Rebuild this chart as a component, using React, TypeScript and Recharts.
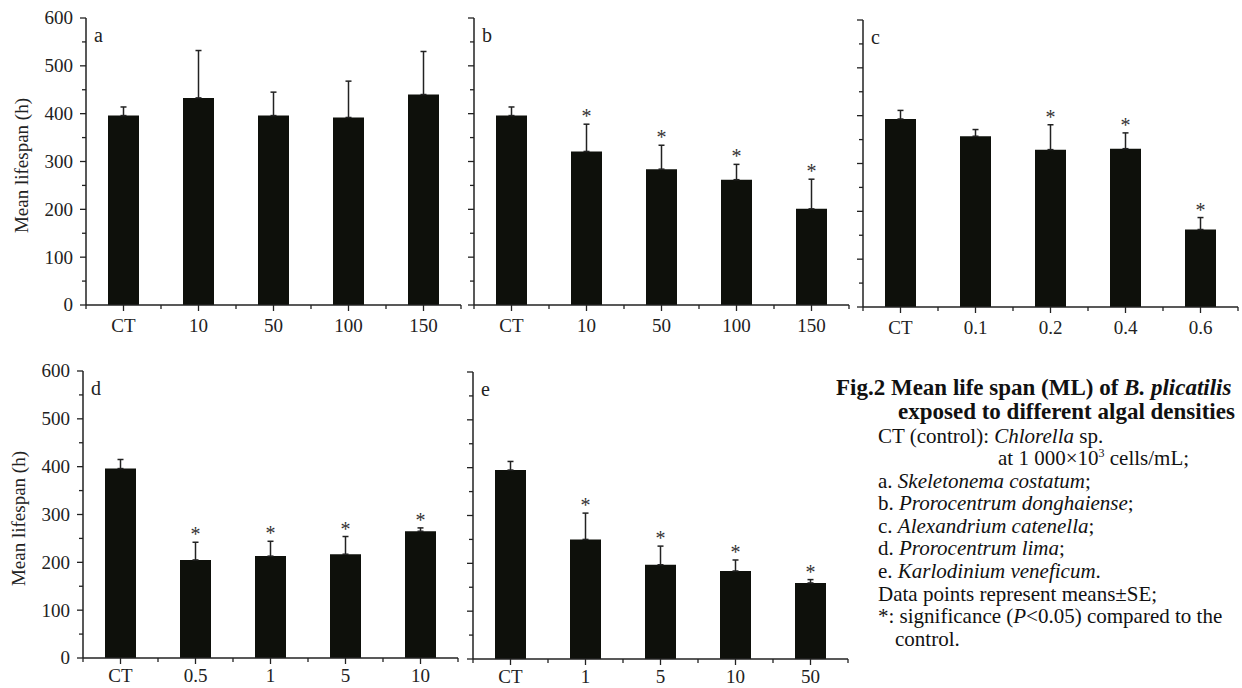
import React from "react";
import { BarChart, Bar, XAxis, YAxis, ErrorBar, LabelList } from "recharts";

// panel a: Skeletonema costatum
const catsA = ["CT", "10", "50", "100", "150"];
const meanA = [396, 433, 396, 392, 440];
const seA = [18, 99, 49, 76, 90];
const sigA = [false, false, false, false, false];

// panel b: Prorocentrum donghaiense
const catsB = ["CT", "10", "50", "100", "150"];
const meanB = [396, 321, 284, 262, 201];
const seB = [18, 57, 50, 32, 62];
const sigB = [false, true, true, true, true];

// panel c: Alexandrium catenella
const catsC = ["CT", "0.1", "0.2", "0.4", "0.6"];
const meanC = [393, 357, 329, 331, 162];
const seC = [18, 14, 52, 33, 25];
const sigC = [false, false, true, true, true];

// panel d: Prorocentrum lima
const catsD = ["CT", "0.5", "1", "5", "10"];
const meanD = [396, 205, 213, 217, 265];
const seD = [19, 37, 31, 37, 7];
const sigD = [false, true, true, true, true];

// panel e: Karlodinium veneficum
const catsE = ["CT", "1", "5", "10", "50"];
const meanE = [395, 250, 197, 184, 159];
const seE = [18, 55, 39, 23, 7];
const sigE = [false, true, true, true, true];

const yTicks = [0, 50, 100, 150, 200, 250, 300, 350, 400, 450, 500, 550, 600];

const FONT = '"Liberation Serif", "Times New Roman", serif';
const INK = "#222";
const BAR = "#0e100b";
const Y_W = 86;
const X_H = 40;
const TOP = 18;
const TICK = 6;
const GAP = 2;
const FS = 19;

const YTick = (props: any) => {
  const { x, y, payload, showLabel } = props;
  const ax = x + TICK + GAP;
  const major = payload.value % 100 === 0;
  return (
    <g>
      <line x1={ax - (major ? 6 : 4)} x2={ax} y1={y} y2={y} stroke={INK} strokeWidth={1.3} />
      {showLabel && major && (
        <text x={ax - 13} y={y} dy="0.34em" textAnchor="end" fontSize={FS} fontFamily={FONT} fill={INK}>
          {payload.value}
        </text>
      )}
    </g>
  );
};

const XTick = (props: any) => {
  const { x, y, payload, index, band, lab } = props;
  const ay = y - TICK - GAP;
  return (
    <g>
      <line x1={x} x2={x} y1={ay} y2={ay + 6} stroke={INK} strokeWidth={1.3} />
      <line x1={x + band / 2} x2={x + band / 2} y1={ay} y2={ay + 4} stroke={INK} strokeWidth={1.3} />
      {index === 0 && (
        <line x1={x - band / 2} x2={x - band / 2} y1={ay} y2={ay + 4} stroke={INK} strokeWidth={1.3} />
      )}
      <text x={x} y={ay + lab} textAnchor="middle" fontSize={FS} fontFamily={FONT} fill={INK}>
        {payload.value}
      </text>
    </g>
  );
};

const YLabel = (props: any) => {
  const vb = props.viewBox || {};
  const cx = (vb.x ?? 0) + 21;
  const cy = (vb.y ?? TOP) + (vb.height ?? 287) / 2 + 4;
  return (
    <text
      x={cx}
      y={cy}
      transform={`rotate(-90, ${cx}, ${cy})`}
      textAnchor="middle"
      dominantBaseline="central"
      fontSize={FS}
      fontFamily={FONT}
      fill={INK}
    >
      Mean lifespan (h)
    </text>
  );
};

type PanelProps = {
  cats: string[];
  mean: number[];
  se: number[];
  sig: boolean[];
  ax: number; // y axis line x
  ty: number; // plot top
  by: number; // plot bottom (x axis)
  rx: number; // plot right
  showY: boolean;
  letter: string;
  lab: number; // baseline of category labels below the axis
};

function Panel({ cats, mean, se, sig, ax, ty, by, rx, showY, letter, lab }: PanelProps) {
  const data = cats.map((c, i) => ({ cat: c, v: mean[i], e: [0, se[i]] }));
  const width = rx - ax + Y_W + 5;
  const height = by - ty + TOP + X_H;
  const band = (rx - ax) / cats.length;

  const Star = (p: any) => {
    const vb = p.viewBox || p;
    const i = p.index;
    if (i == null || !sig[i]) return null;
    const perUnit = vb.height / mean[i];
    const top = vb.y - se[i] * perUnit;
    return (
      <text x={vb.x + vb.width / 2} y={top - 1} textAnchor="middle" fontSize={20} fontFamily={FONT} fill="#333">
        *
      </text>
    );
  };

  return (
    <div style={{ position: "absolute", left: ax - Y_W, top: ty - TOP, width, height }}>
      <BarChart width={width} height={height} data={data} margin={{ top: TOP, right: 5, bottom: 0, left: 0 }}>
        <XAxis
          dataKey="cat"
          interval={0}
          height={X_H}
          tickSize={TICK}
          tickMargin={GAP}
          tickLine={false}
          axisLine={{ stroke: INK, strokeWidth: 1.5 }}
          tick={<XTick band={band} lab={lab} />}
        />
        <YAxis
          type="number"
          domain={[0, 600]}
          ticks={yTicks}
          interval={0}
          width={Y_W}
          tickSize={TICK}
          tickMargin={GAP}
          tickLine={false}
          axisLine={{ stroke: INK, strokeWidth: 1.5 }}
          tick={<YTick showLabel={showY} />}
          label={showY ? { content: (p: any) => <YLabel {...p} /> } : undefined}
        />
        <Bar dataKey="v" fill={BAR} barSize={31} isAnimationActive={false}>
          <ErrorBar dataKey="e" width={3} stroke={INK} strokeWidth={1.5} direction="y" />
          <LabelList dataKey="v" content={(p: any) => <Star {...p} />} />
        </Bar>
      </BarChart>
      <div
        style={{
          position: "absolute",
          left: Y_W + 8,
          top: TOP + 8,
          fontSize: 20,
          fontFamily: FONT,
          color: INK,
          lineHeight: "18px",
        }}
      >
        {letter}
      </div>
    </div>
  );
}

const line = (center: number, left: number, size: number, bold: boolean, content: React.ReactNode) => (
  <div
    style={{
      position: "absolute",
      top: center - 11,
      left,
      fontSize: size,
      fontWeight: bold ? 700 : 400,
      whiteSpace: "nowrap",
      lineHeight: "22px",
      color: "#111",
    }}
  >
    {content}
  </div>
);

export default function App() {
  return (
    <div
      style={{
        position: "absolute",
        left: 0,
        top: 0,
        width: 1242,
        height: 688,
        overflow: "hidden",
        background: "#fff",
        fontFamily: FONT,
      }}
    >
      <Panel cats={catsA} mean={meanA} se={seA} sig={sigA} ax={86} ty={18} by={305} rx={461} showY letter="a" lab={27} />
      <Panel cats={catsB} mean={meanB} se={seB} sig={sigB} ax={474} ty={18} by={305} rx={849} showY={false} letter="b" lab={27} />
      <Panel cats={catsC} mean={meanC} se={seC} sig={sigC} ax={863} ty={20} by={307} rx={1238} showY={false} letter="c" lab={27} />
      <Panel cats={catsD} mean={meanD} se={seD} sig={sigD} ax={83} ty={371} by={658} rx={458} showY letter="d" lab={24} />
      <Panel cats={catsE} mean={meanE} se={seE} sig={sigE} ax={473} ty={372} by={659} rx={848} showY={false} letter="e" lab={24} />

      {line(388, 836, 23, true, <>Fig.2 Mean life span (ML) of <i>B. plicatilis</i></>)}
      {line(412, 898, 23, true, <>exposed to different algal densities</>)}
      {line(436, 878, 21, false, <>CT (control): <i>Chlorella</i> sp.</>)}
      {line(
        458,
        998,
        21,
        false,
        <>
          at 1 000×10
          <span style={{ fontSize: 12, position: "relative", top: -8 }}>3</span> cells/mL;
        </>
      )}
      {line(481, 878, 21, false, <>a. <i>Skeletonema costatum</i>;</>)}
      {line(503, 878, 21, false, <>b. <i>Prorocentrum donghaiense</i>;</>)}
      {line(526, 878, 21, false, <>c. <i>Alexandrium catenella</i>;</>)}
      {line(548, 878, 21, false, <>d. <i>Prorocentrum lima</i>;</>)}
      {line(571, 878, 21, false, <>e. <i>Karlodinium veneficum</i>.</>)}
      {line(594, 878, 21, false, <>Data points represent means±SE;</>)}
      {line(616, 878, 21, false, <>*: significance (<i>P</i>&lt;0.05) compared to the</>)}
      {line(639, 895, 21, false, <>control.</>)}
    </div>
  );
}
